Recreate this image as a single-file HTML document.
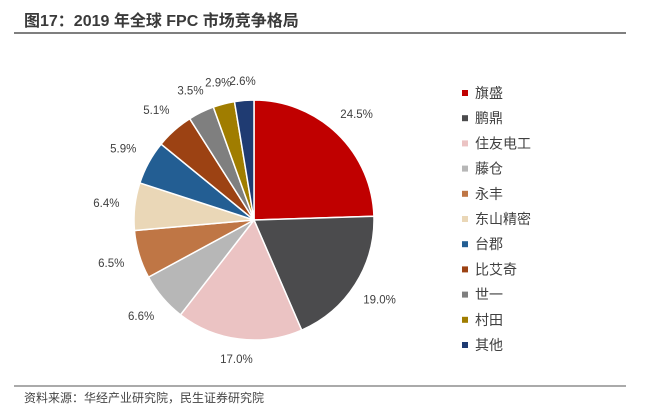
<!DOCTYPE html>
<html><head><meta charset="utf-8"><style>
body{margin:0;background:#fff;width:646px;height:408px;overflow:hidden;font-family:"Liberation Sans","Noto Sans CJK SC",sans-serif;}
svg{position:absolute;left:0;top:0}
</style></head><body>
<svg width="646" height="408">
<text x="24" y="26" font-size="16" font-weight="bold" fill="#3a3a3a" font-family="Liberation Sans, Noto Sans CJK SC, sans-serif">图17：2019 年全球 FPC 市场竞争格局</text>
<line x1="14" y1="33" x2="626" y2="33" stroke="#555" stroke-width="1.5"/>
<g id="pie"></g>
<g id="labels"></g>
<g id="legend"></g>
<line x1="14" y1="386" x2="626" y2="386" stroke="#555" stroke-width="1"/>
<text x="24" y="402" font-size="12" fill="#444" font-family="Liberation Sans, Noto Sans CJK SC, sans-serif">资料来源：华经产业研究院，民生证券研究院</text>
</svg>
<script>
const categories=["旗盛","鹏鼎","住友电工","藤仓","永丰","东山精密","台郡","比艾奇","世一","村田","其他"];
const values=[24.5,19.0,17.0,6.6,6.5,6.4,5.9,5.1,3.5,2.9,2.6];
const colors=["#C00000","#4B4B4D","#EBC3C3","#B7B7B7","#BF7645","#EAD7B7","#235E93","#9C4213","#7F7F7F","#A07D00","#1F3B72"];
const NS="http://www.w3.org/2000/svg";
const cx=254,cy=220,r=120;
const total=values.reduce((a,b)=>a+b,0);
const pie=document.getElementById('pie'),labels=document.getElementById('labels'),legend=document.getElementById('legend');
let acc=0;
values.forEach((v,i)=>{
  const a0=acc/total*2*Math.PI,a1=(acc+v)/total*2*Math.PI;acc+=v;
  const p=(a)=>[cx+r*Math.sin(a),cy-r*Math.cos(a)];
  const [x0,y0]=p(a0),[x1,y1]=p(a1);
  const path=document.createElementNS(NS,'path');
  path.setAttribute('d',`M${cx},${cy}L${x0},${y0}A${r},${r} 0 ${a1-a0>Math.PI?1:0} 1 ${x1},${y1}Z`);
  path.setAttribute('fill',colors[i]);path.setAttribute('stroke','#fff');path.setAttribute('stroke-width','1.5');
  
  
  pie.appendChild(path);
  const m=(a0+a1)/2,s=Math.sin(m),c=Math.cos(m);
  const R=r+12+16*Math.abs(s)+6*Math.abs(c);
  const t=document.createElementNS(NS,'text');
  t.setAttribute('x',cx+R*s);t.setAttribute('y',cy-R*c+4);
  t.setAttribute('text-anchor','middle');t.setAttribute('font-size','11.5');t.setAttribute('fill','#404040');
  t.textContent=v.toFixed(1)+'%';
  
  
  labels.appendChild(t);
  const y=93+i*25.2;
  const sq=document.createElementNS(NS,'rect');
  sq.setAttribute('x',462);sq.setAttribute('y',y-3);sq.setAttribute('width',6);sq.setAttribute('height',6);sq.setAttribute('fill',colors[i]);
  
  
  legend.appendChild(sq);
  const lt=document.createElementNS(NS,'text');
  lt.setAttribute('x',475);lt.setAttribute('y',y+5);lt.setAttribute('font-size','14');lt.setAttribute('fill','#404040');
  lt.setAttribute('font-family','Liberation Sans, Noto Sans CJK SC, sans-serif');
  lt.textContent=categories[i];
  
  
  legend.appendChild(lt);
});
</script>
</body></html>
